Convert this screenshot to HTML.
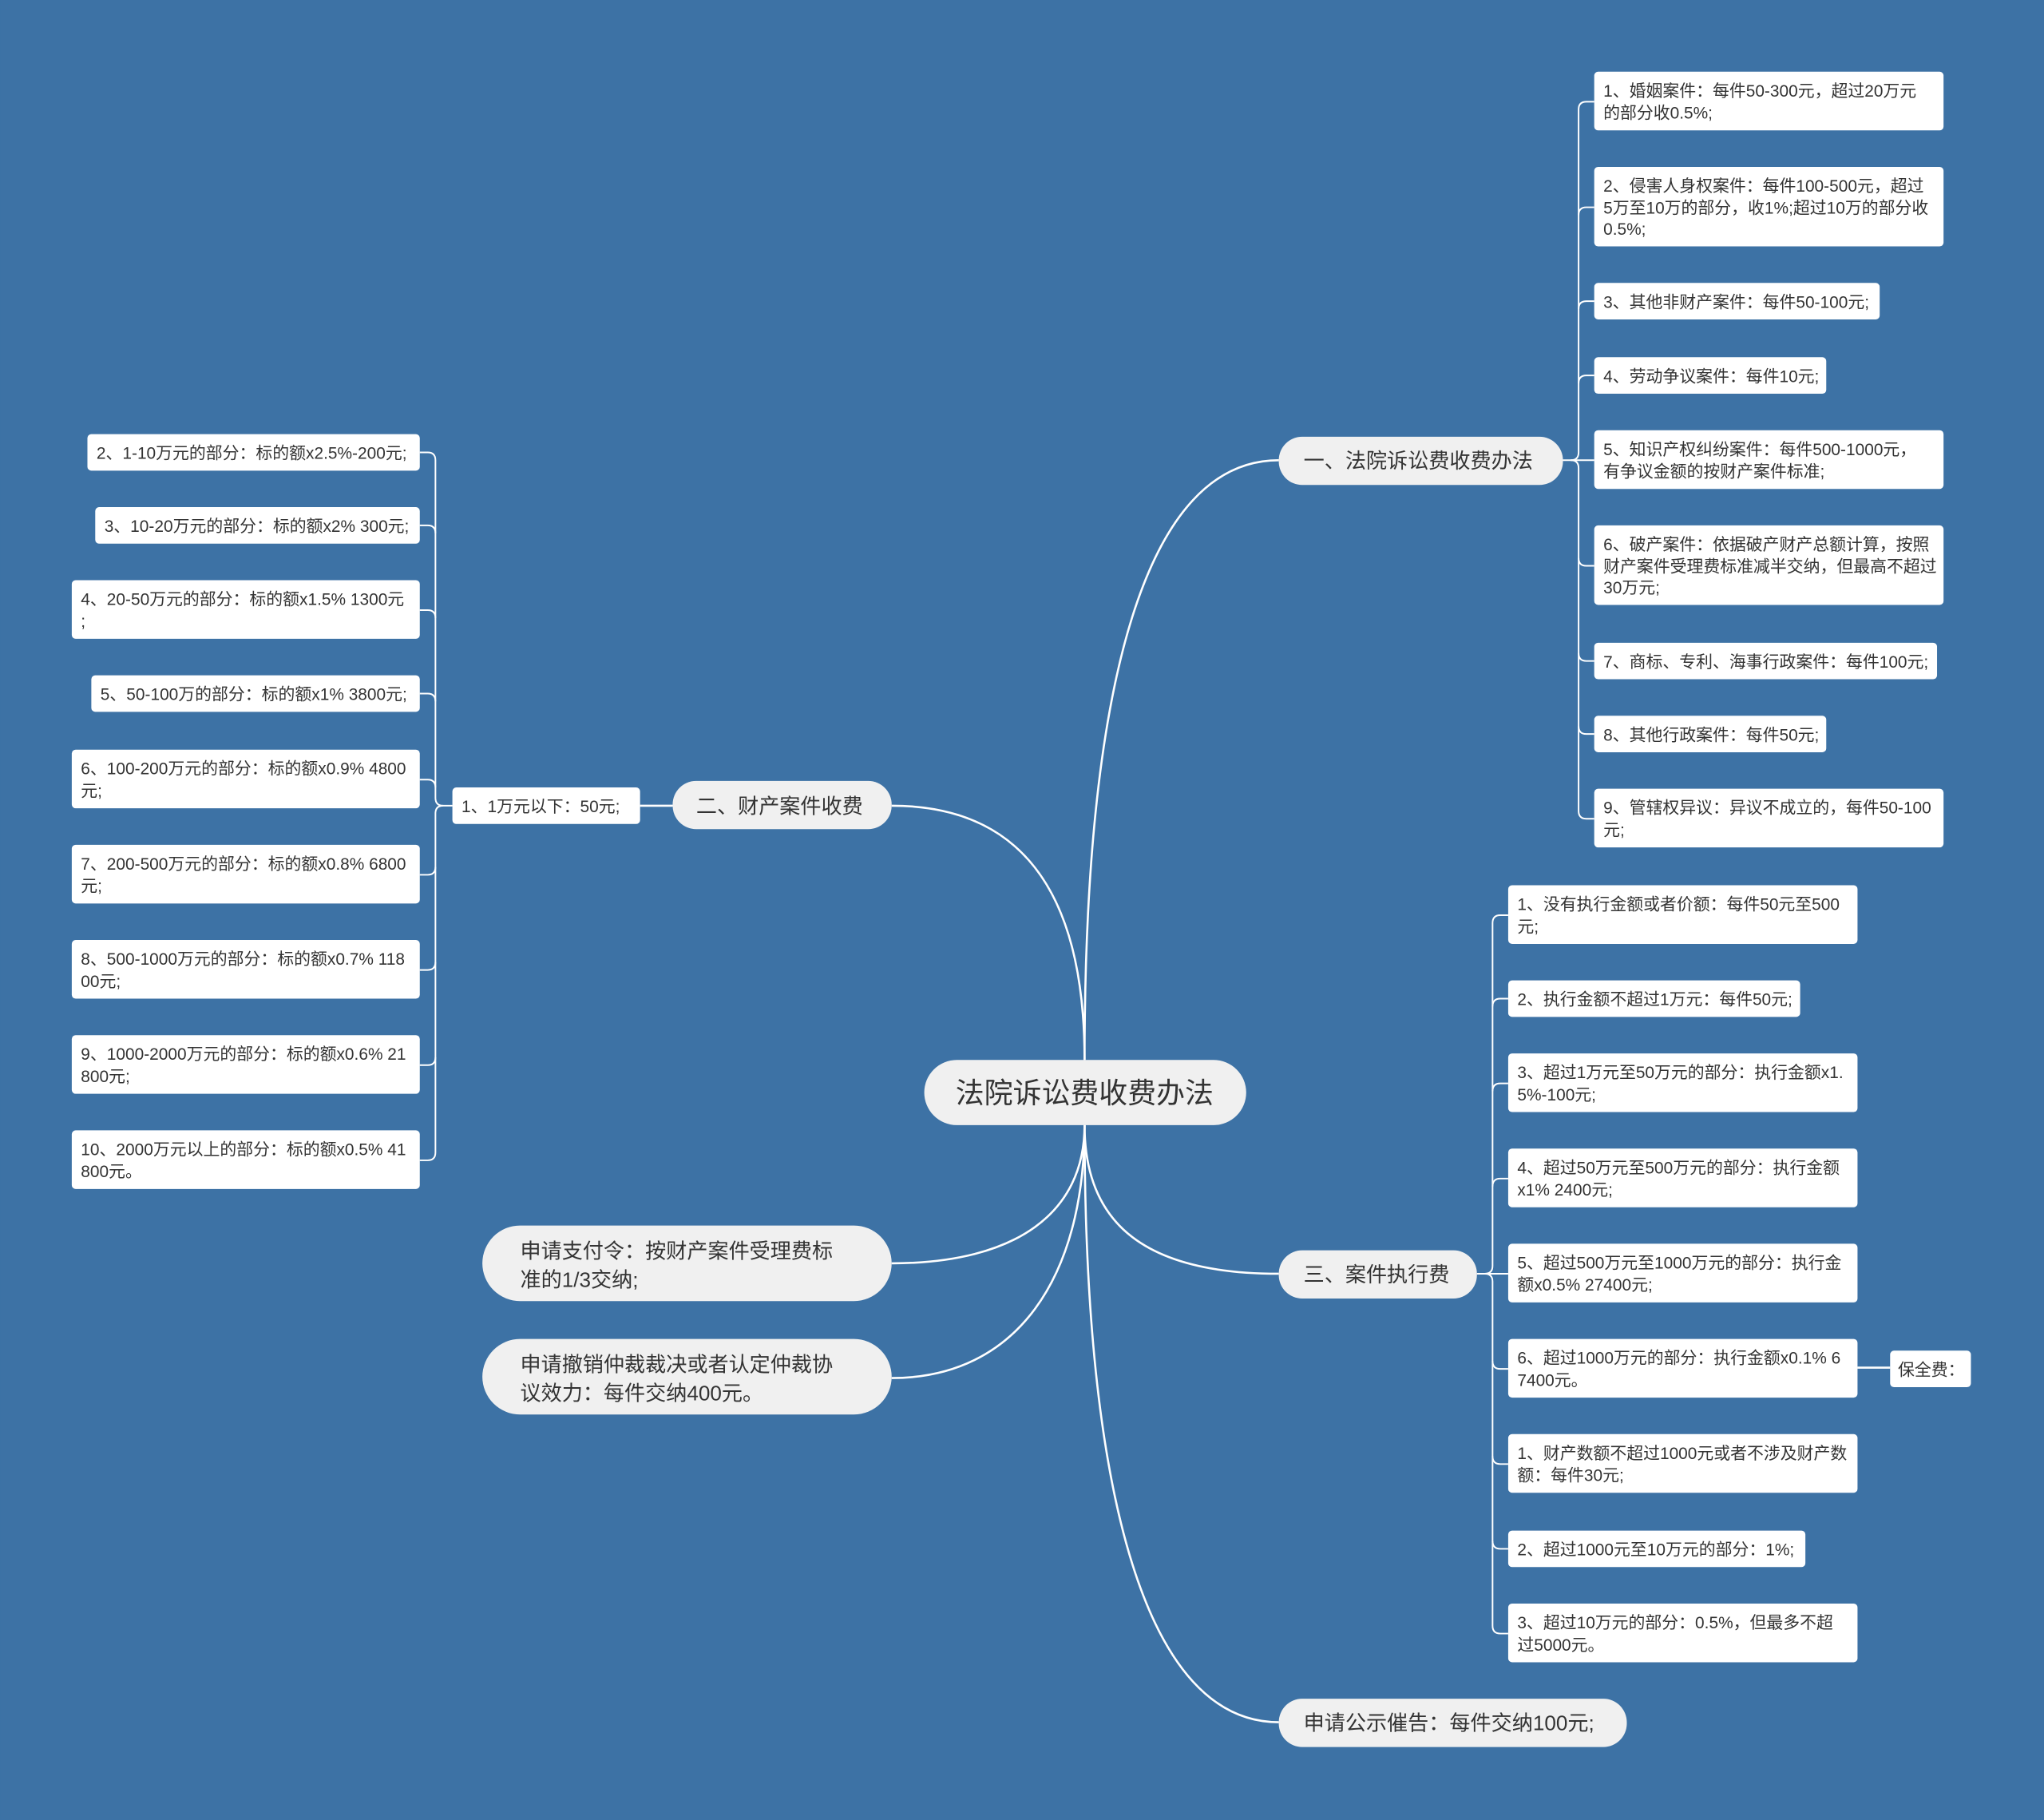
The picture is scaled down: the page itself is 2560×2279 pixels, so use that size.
<!DOCTYPE html>
<html><head><meta charset="utf-8"><style>
html,body{margin:0;padding:0;background:#3d72a5;}
svg{display:block;}
text{font-family:"Liberation Sans","Noto Sans CJK SC",sans-serif;fill:#333;}
</style></head><body>
<svg width="2560" height="2279" viewBox="0 0 1568 1396" xmlns="http://www.w3.org/2000/svg">
<rect width="1568" height="1396" fill="#3d72a5"/>
<g fill="none" stroke="#fff" stroke-width="1.6">
<path d="M832,813 C832,520 880,353 981,353"/>
<path d="M832,813 C832,680 780,618 684,618"/>
<path d="M832,863 C832,930 780,969 684,969"/>
<path d="M832,863 C832,980 780,1057 684,1057"/>
<path d="M832,863 C832,940 880,977 981,977"/>
<path d="M832,863 C832,1150 880,1321 981,1321"/>
<path d="M516,618 L491,618"/>
<path d="M1425,1049 L1450,1049"/>
</g>
<g fill="none" stroke="#fff" stroke-width="1.2">
<path d="M1199,353 H1205 Q1211,353 1211,347 V84 Q1211,78 1217,78 H1223"/>
<path d="M1211,165 Q1211,159 1217,159 H1223"/>
<path d="M1211,237 Q1211,231 1217,231 H1223"/>
<path d="M1211,294 Q1211,288 1217,288 H1223"/>
<path d="M1205,353 H1223"/>
<path d="M1205,353 Q1211,353 1211,359 V622 Q1211,628 1217,628 H1223"/>
<path d="M1211,428 Q1211,434 1217,434 H1223"/>
<path d="M1211,501 Q1211,507 1217,507 H1223"/>
<path d="M1211,557 Q1211,563 1217,563 H1223"/>
<path d="M1133,977 H1139 Q1145,977 1145,971 V708 Q1145,702 1151,702 H1157"/>
<path d="M1145,772 Q1145,766 1151,766 H1157"/>
<path d="M1145,837 Q1145,831 1151,831 H1157"/>
<path d="M1145,910 Q1145,904 1151,904 H1157"/>
<path d="M1139,977 H1157"/>
<path d="M1139,977 Q1145,977 1145,983 V1247 Q1145,1253 1151,1253 H1157"/>
<path d="M1145,1044 Q1145,1050 1151,1050 H1157"/>
<path d="M1145,1117 Q1145,1123 1151,1123 H1157"/>
<path d="M1145,1182 Q1145,1188 1151,1188 H1157"/>
<path d="M347,618 H340 Q334,618 334,612 V353 Q334,347 328,347 H322"/>
<path d="M334,409 Q334,403 328,403 H322"/>
<path d="M334,474 Q334,468 328,468 H322"/>
<path d="M334,538 Q334,532 328,532 H322"/>
<path d="M334,604 Q334,598 328,598 H322"/>
<path d="M340,618 Q334,618 334,624 V884 Q334,890 328,890 H322"/>
<path d="M334,665 Q334,671 328,671 H322"/>
<path d="M334,738 Q334,744 328,744 H322"/>
<path d="M334,811 Q334,817 328,817 H322"/>
</g>
<g fill="#f0f0f0">
<rect x="709" y="813" width="247" height="50" rx="25"/>
<rect x="981" y="335" width="218" height="37" rx="18"/>
<rect x="516" y="599" width="168" height="37" rx="18"/>
<rect x="370" y="940" width="314" height="58" rx="29"/>
<rect x="370" y="1027" width="314" height="58" rx="29"/>
<rect x="981" y="959" width="152" height="37" rx="18"/>
<rect x="981" y="1303" width="267" height="37" rx="18"/>
</g>
<g fill="#fff">
<rect x="1223" y="55" width="268" height="45" rx="3"/>
<rect x="1223" y="128" width="268" height="61" rx="3"/>
<rect x="1223" y="217" width="219" height="28" rx="3"/>
<rect x="1223" y="274" width="178" height="28" rx="3"/>
<rect x="1223" y="330" width="268" height="45" rx="3"/>
<rect x="1223" y="403" width="268" height="61" rx="3"/>
<rect x="1223" y="493" width="263" height="28" rx="3"/>
<rect x="1223" y="549" width="178" height="28" rx="3"/>
<rect x="1223" y="605" width="268" height="45" rx="3"/>
<rect x="1157" y="679" width="268" height="45" rx="3"/>
<rect x="1157" y="752" width="224" height="28" rx="3"/>
<rect x="1157" y="808" width="268" height="45" rx="3"/>
<rect x="1157" y="881" width="268" height="45" rx="3"/>
<rect x="1157" y="954" width="268" height="45" rx="3"/>
<rect x="1157" y="1027" width="268" height="45" rx="3"/>
<rect x="1450" y="1036" width="62" height="28" rx="3"/>
<rect x="1157" y="1100" width="268" height="45" rx="3"/>
<rect x="1157" y="1174" width="228" height="28" rx="3"/>
<rect x="1157" y="1230" width="268" height="45" rx="3"/>
<rect x="347" y="604" width="144" height="28" rx="3"/>
<rect x="67" y="333" width="255" height="28" rx="3"/>
<rect x="73" y="389" width="249" height="28" rx="3"/>
<rect x="55" y="445" width="267" height="45" rx="3"/>
<rect x="70" y="518" width="252" height="28" rx="3"/>
<rect x="55" y="575" width="267" height="45" rx="3"/>
<rect x="55" y="648" width="267" height="45" rx="3"/>
<rect x="55" y="721" width="267" height="45" rx="3"/>
<rect x="55" y="794" width="267" height="45" rx="3"/>
<rect x="55" y="867" width="267" height="45" rx="3"/>
</g>
<text x="832" y="846" font-size="22" text-anchor="middle">法院诉讼费收费办法</text>
<g font-size="16">
<text x="1000" y="359">一、法院诉讼费收费办法</text>
<text x="534" y="624">二、财产案件收费</text>
<text x="1000" y="983">三、案件执行费</text>
<text x="1000" y="1327">申请公示催告：每件交纳100元;</text>
<text x="399" y="965">申请支付令：按财产案件受理费标</text>
<text x="399" y="987">准的1/3交纳;</text>
<text x="399" y="1052">申请撤销仲裁裁决或者认定仲裁协</text>
<text x="399" y="1074">议效力：每件交纳400元。</text>
</g>
<g font-size="12.8">
<text x="1230" y="74">1、婚姻案件：每件50-300元，超过20万元</text>
<text x="1230" y="91">的部分收0.5%;</text>
<text x="1230" y="147">2、侵害人身权案件：每件100-500元，超过</text>
<text x="1230" y="164">5万至10万的部分，收1%;超过10万的部分收</text>
<text x="1230" y="180">0.5%;</text>
<text x="1230" y="236">3、其他非财产案件：每件50-100元;</text>
<text x="1230" y="293">4、劳动争议案件：每件10元;</text>
<text x="1230" y="349">5、知识产权纠纷案件：每件500-1000元，</text>
<text x="1230" y="366">有争议金额的按财产案件标准;</text>
<text x="1230" y="422">6、破产案件：依据破产财产总额计算，按照</text>
<text x="1230" y="439">财产案件受理费标准减半交纳，但最高不超过</text>
<text x="1230" y="455">30万元;</text>
<text x="1230" y="512">7、商标、专利、海事行政案件：每件100元;</text>
<text x="1230" y="568">8、其他行政案件：每件50元;</text>
<text x="1230" y="624">9、管辖权异议：异议不成立的，每件50-100</text>
<text x="1230" y="641">元;</text>
<text x="1164" y="698">1、没有执行金额或者价额：每件50元至500</text>
<text x="1164" y="715">元;</text>
<text x="1164" y="771">2、执行金额不超过1万元：每件50元;</text>
<text x="1164" y="827">3、超过1万元至50万元的部分：执行金额x1.</text>
<text x="1164" y="844">5%-100元;</text>
<text x="1164" y="900">4、超过50万元至500万元的部分：执行金额</text>
<text x="1164" y="917">x1% 2400元;</text>
<text x="1164" y="973">5、超过500万元至1000万元的部分：执行金</text>
<text x="1164" y="990">额x0.5% 27400元;</text>
<text x="1164" y="1046">6、超过1000万元的部分：执行金额x0.1% 6</text>
<text x="1164" y="1063">7400元。</text>
<text x="1456" y="1055">保全费：</text>
<text x="1164" y="1119">1、财产数额不超过1000元或者不涉及财产数</text>
<text x="1164" y="1136">额：每件30元;</text>
<text x="1164" y="1193">2、超过1000元至10万元的部分：1%;</text>
<text x="1164" y="1249">3、超过10万元的部分：0.5%，但最多不超</text>
<text x="1164" y="1266">过5000元。</text>
<text x="354" y="623">1、1万元以下：50元;</text>
<text x="74" y="352">2、1-10万元的部分：标的额x2.5%-200元;</text>
<text x="80" y="408">3、10-20万元的部分：标的额x2% 300元;</text>
<text x="62" y="464">4、20-50万元的部分：标的额x1.5% 1300元</text>
<text x="62" y="481">;</text>
<text x="77" y="537">5、50-100万的部分：标的额x1% 3800元;</text>
<text x="62" y="594">6、100-200万元的部分：标的额x0.9% 4800</text>
<text x="62" y="611">元;</text>
<text x="62" y="667">7、200-500万元的部分：标的额x0.8% 6800</text>
<text x="62" y="684">元;</text>
<text x="62" y="740">8、500-1000万元的部分：标的额x0.7% 118</text>
<text x="62" y="757">00元;</text>
<text x="62" y="813">9、1000-2000万元的部分：标的额x0.6% 21</text>
<text x="62" y="830">800元;</text>
<text x="62" y="886">10、2000万元以上的部分：标的额x0.5% 41</text>
<text x="62" y="903">800元。</text>
</g>
</svg>
</body></html>
